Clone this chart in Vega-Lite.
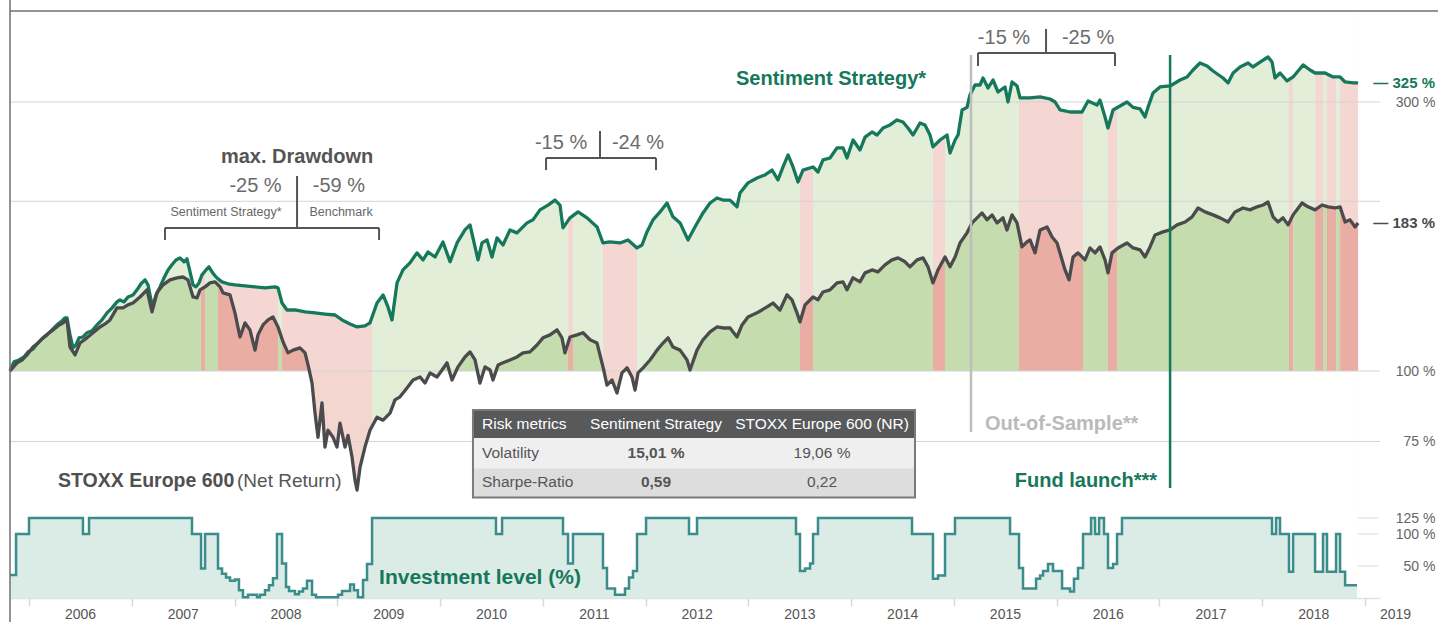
{
"$schema":"https://vega.github.io/schema/vega-lite/v6.json",
"width":1370,"height":587,
"autosize":{"type":"none"},
"padding":{"left":10,"top":11,"right":58,"bottom":24},
"background":"white",
"config":{"view":{"stroke":null},"font":"Liberation Sans, Arial, sans-serif"},
"datasets":{
"bands":[{"t":2005.815,"t2":2007.674,"r":"G"},{"t":2007.674,"t2":2007.713,"r":"R"},{"t":2007.713,"t2":2007.839,"r":"G"},{"t":2007.839,"t2":2008.423,"r":"R"},{"t":2008.423,"t2":2008.462,"r":"G"},{"t":2008.462,"t2":2009.338,"r":"R"},{"t":2009.338,"t2":2011.245,"r":"G"},{"t":2011.245,"t2":2011.293,"r":"R"},{"t":2011.293,"t2":2011.585,"r":"G"},{"t":2011.585,"t2":2011.916,"r":"R"},{"t":2011.916,"t2":2013.502,"r":"G"},{"t":2013.502,"t2":2013.629,"r":"R"},{"t":2013.629,"t2":2014.796,"r":"G"},{"t":2014.796,"t2":2014.913,"r":"R"},{"t":2014.913,"t2":2015.633,"r":"G"},{"t":2015.633,"t2":2016.256,"r":"R"},{"t":2016.256,"t2":2016.499,"r":"G"},{"t":2016.499,"t2":2016.587,"r":"R"},{"t":2016.587,"t2":2018.26,"r":"G"},{"t":2018.26,"t2":2018.3,"r":"R"},{"t":2018.3,"t2":2018.514,"r":"G"},{"t":2018.514,"t2":2018.591,"r":"R"},{"t":2018.591,"t2":2018.63,"r":"G"},{"t":2018.63,"t2":2018.718,"r":"R"},{"t":2018.718,"t2":2018.757,"r":"G"},{"t":2018.757,"t2":2018.932,"r":"R"}],
"S":[{"t":2005.815,"v":100},{"t":2005.854,"v":103.8},{"t":2005.903,"v":104.6},{"t":2005.951,"v":105.9},{"t":2005.99,"v":108.1},{"t":2006.039,"v":109.4},{"t":2006.078,"v":111.7},{"t":2006.126,"v":114},{"t":2006.175,"v":115.9},{"t":2006.224,"v":118.3},{"t":2006.272,"v":120.7},{"t":2006.311,"v":122.2},{"t":2006.35,"v":124.2},{"t":2006.37,"v":124.2},{"t":2006.399,"v":115.9},{"t":2006.428,"v":109.9},{"t":2006.457,"v":111.2},{"t":2006.487,"v":114.5},{"t":2006.525,"v":114.9},{"t":2006.564,"v":116.9},{"t":2006.613,"v":117.8},{"t":2006.662,"v":120.7},{"t":2006.71,"v":123.2},{"t":2006.759,"v":126.8},{"t":2006.808,"v":129.4},{"t":2006.856,"v":132.6},{"t":2006.885,"v":133.7},{"t":2006.924,"v":132.6},{"t":2006.963,"v":135.3},{"t":2007.012,"v":136.4},{"t":2007.051,"v":139.3},{"t":2007.09,"v":142.8},{"t":2007.129,"v":145.1},{"t":2007.158,"v":142.2},{"t":2007.187,"v":133.7},{"t":2007.207,"v":131},{"t":2007.236,"v":136.4},{"t":2007.275,"v":141},{"t":2007.314,"v":146.3},{"t":2007.353,"v":151.1},{"t":2007.391,"v":154.3},{"t":2007.43,"v":157.4},{"t":2007.469,"v":158.7},{"t":2007.508,"v":156.2},{"t":2007.537,"v":158.1},{"t":2007.567,"v":149.9},{"t":2007.596,"v":142.2},{"t":2007.625,"v":141},{"t":2007.654,"v":143.3},{"t":2007.683,"v":148.1},{"t":2007.722,"v":151.1},{"t":2007.751,"v":153},{"t":2007.781,"v":149.9},{"t":2007.81,"v":147.5},{"t":2007.839,"v":145.7},{"t":2007.878,"v":143.9},{"t":2007.936,"v":142.8},{"t":2008.004,"v":142.2},{"t":2008.102,"v":141.6},{"t":2008.199,"v":141},{"t":2008.296,"v":140.4},{"t":2008.394,"v":141},{"t":2008.423,"v":140.4},{"t":2008.462,"v":132},{"t":2008.51,"v":128.3},{"t":2008.588,"v":128.3},{"t":2008.686,"v":127.3},{"t":2008.783,"v":126.8},{"t":2008.88,"v":126.2},{"t":2008.978,"v":125.7},{"t":2009.046,"v":123.2},{"t":2009.124,"v":121.2},{"t":2009.192,"v":119.7},{"t":2009.269,"v":120.2},{"t":2009.318,"v":121.7},{"t":2009.386,"v":132},{"t":2009.445,"v":136.4},{"t":2009.493,"v":129.9},{"t":2009.532,"v":123.2},{"t":2009.581,"v":143.3},{"t":2009.639,"v":151.1},{"t":2009.707,"v":155.5},{"t":2009.775,"v":162},{"t":2009.834,"v":157.4},{"t":2009.883,"v":162.6},{"t":2009.951,"v":159.3},{"t":2010.028,"v":169.4},{"t":2010.097,"v":156.2},{"t":2010.165,"v":168.7},{"t":2010.242,"v":177.9},{"t":2010.291,"v":181.6},{"t":2010.34,"v":166},{"t":2010.369,"v":157.4},{"t":2010.408,"v":168.7},{"t":2010.457,"v":170.8},{"t":2010.505,"v":159.3},{"t":2010.554,"v":172.2},{"t":2010.612,"v":167.3},{"t":2010.68,"v":177.9},{"t":2010.748,"v":175.8},{"t":2010.846,"v":183.1},{"t":2010.904,"v":185.4},{"t":2010.972,"v":193.1},{"t":2011.05,"v":196.9},{"t":2011.118,"v":201},{"t":2011.167,"v":196.9},{"t":2011.196,"v":179.4},{"t":2011.264,"v":186.9},{"t":2011.342,"v":191.5},{"t":2011.43,"v":186.9},{"t":2011.527,"v":180.1},{"t":2011.585,"v":168.7},{"t":2011.653,"v":169.4},{"t":2011.751,"v":168.7},{"t":2011.829,"v":170.8},{"t":2011.916,"v":165.3},{"t":2011.965,"v":167.3},{"t":2012.013,"v":176.5},{"t":2012.072,"v":185.4},{"t":2012.14,"v":191.5},{"t":2012.208,"v":198.6},{"t":2012.266,"v":187.7},{"t":2012.335,"v":183.1},{"t":2012.412,"v":170.8},{"t":2012.48,"v":180.1},{"t":2012.558,"v":190.7},{"t":2012.627,"v":198.6},{"t":2012.694,"v":202.7},{"t":2012.753,"v":201},{"t":2012.821,"v":201},{"t":2012.889,"v":195.5},{"t":2012.918,"v":206.9},{"t":2012.996,"v":215.6},{"t":2013.084,"v":220},{"t":2013.162,"v":222.7},{"t":2013.23,"v":227.2},{"t":2013.288,"v":218.2},{"t":2013.337,"v":230.1},{"t":2013.386,"v":241.7},{"t":2013.434,"v":230.1},{"t":2013.483,"v":216.4},{"t":2013.531,"v":227.2},{"t":2013.629,"v":230.1},{"t":2013.677,"v":225.4},{"t":2013.726,"v":236.8},{"t":2013.794,"v":238.7},{"t":2013.862,"v":248.7},{"t":2013.921,"v":248.7},{"t":2013.959,"v":238.7},{"t":2014.018,"v":256.9},{"t":2014.086,"v":246.6},{"t":2014.135,"v":260},{"t":2014.203,"v":265.4},{"t":2014.252,"v":262.2},{"t":2014.31,"v":269.8},{"t":2014.378,"v":273.2},{"t":2014.446,"v":278.8},{"t":2014.504,"v":276.5},{"t":2014.553,"v":269.8},{"t":2014.602,"v":262.2},{"t":2014.67,"v":275.4},{"t":2014.718,"v":273.2},{"t":2014.767,"v":262.2},{"t":2014.796,"v":249.7},{"t":2014.865,"v":256.9},{"t":2014.933,"v":262.2},{"t":2014.962,"v":243.6},{"t":2015.011,"v":256.9},{"t":2015.04,"v":262.2},{"t":2015.079,"v":290.4},{"t":2015.127,"v":293.5},{"t":2015.156,"v":308.7},{"t":2015.205,"v":321.6},{"t":2015.254,"v":321.6},{"t":2015.283,"v":330.9},{"t":2015.332,"v":317.7},{"t":2015.38,"v":328.2},{"t":2015.429,"v":312.5},{"t":2015.497,"v":319},{"t":2015.526,"v":300},{"t":2015.565,"v":325.6},{"t":2015.614,"v":320.3},{"t":2015.643,"v":305},{"t":2015.74,"v":305},{"t":2015.838,"v":306.3},{"t":2015.935,"v":303.7},{"t":2015.984,"v":300},{"t":2016.032,"v":290.4},{"t":2016.13,"v":288},{"t":2016.246,"v":288},{"t":2016.305,"v":301.2},{"t":2016.392,"v":296.3},{"t":2016.421,"v":302.4},{"t":2016.47,"v":282.2},{"t":2016.499,"v":269.8},{"t":2016.548,"v":290.4},{"t":2016.616,"v":295.1},{"t":2016.684,"v":300},{"t":2016.743,"v":293.5},{"t":2016.811,"v":291.6},{"t":2016.859,"v":282.2},{"t":2016.888,"v":293.5},{"t":2016.937,"v":311.2},{"t":2017.005,"v":319},{"t":2017.103,"v":320.3},{"t":2017.2,"v":328.2},{"t":2017.268,"v":332.3},{"t":2017.326,"v":341.9},{"t":2017.394,"v":351.8},{"t":2017.463,"v":347.6},{"t":2017.521,"v":340.5},{"t":2017.618,"v":330.9},{"t":2017.667,"v":324.3},{"t":2017.716,"v":337.7},{"t":2017.784,"v":346.2},{"t":2017.862,"v":351.8},{"t":2017.91,"v":346.2},{"t":2017.978,"v":353.2},{"t":2018.056,"v":360.5},{"t":2018.095,"v":353.2},{"t":2018.124,"v":330.9},{"t":2018.173,"v":337.7},{"t":2018.241,"v":326.9},{"t":2018.3,"v":332.3},{"t":2018.397,"v":349},{"t":2018.465,"v":341.9},{"t":2018.514,"v":337.7},{"t":2018.611,"v":337.7},{"t":2018.689,"v":332.3},{"t":2018.757,"v":332.3},{"t":2018.806,"v":325.6},{"t":2018.884,"v":324.3},{"t":2018.932,"v":324.3}],
"B":[{"t":2005.815,"v":100},{"t":2005.883,"v":103.4},{"t":2005.932,"v":104.6},{"t":2005.981,"v":106.8},{"t":2006.039,"v":110.3},{"t":2006.088,"v":112.1},{"t":2006.136,"v":114.5},{"t":2006.185,"v":116.4},{"t":2006.234,"v":118.3},{"t":2006.282,"v":120.2},{"t":2006.331,"v":121.7},{"t":2006.37,"v":123.2},{"t":2006.399,"v":110.3},{"t":2006.448,"v":106.8},{"t":2006.496,"v":112.1},{"t":2006.564,"v":114.5},{"t":2006.623,"v":116.9},{"t":2006.691,"v":119.7},{"t":2006.74,"v":121.2},{"t":2006.788,"v":123.2},{"t":2006.856,"v":129.4},{"t":2006.915,"v":129.4},{"t":2006.963,"v":131},{"t":2007.012,"v":132},{"t":2007.08,"v":135.3},{"t":2007.148,"v":139.3},{"t":2007.197,"v":127.3},{"t":2007.245,"v":137.6},{"t":2007.304,"v":142.2},{"t":2007.372,"v":145.1},{"t":2007.44,"v":146.3},{"t":2007.498,"v":146.8},{"t":2007.547,"v":145.1},{"t":2007.596,"v":135.3},{"t":2007.635,"v":134.8},{"t":2007.664,"v":139.3},{"t":2007.713,"v":141},{"t":2007.761,"v":143.3},{"t":2007.81,"v":143.9},{"t":2007.859,"v":141},{"t":2007.888,"v":137.6},{"t":2007.956,"v":136.5},{"t":2008.004,"v":126.8},{"t":2008.053,"v":114.9},{"t":2008.102,"v":121.7},{"t":2008.15,"v":118.3},{"t":2008.199,"v":108.9},{"t":2008.228,"v":115.9},{"t":2008.277,"v":120.7},{"t":2008.326,"v":123.2},{"t":2008.374,"v":124.7},{"t":2008.423,"v":119.7},{"t":2008.472,"v":112.6},{"t":2008.52,"v":107.7},{"t":2008.569,"v":108.9},{"t":2008.637,"v":109.9},{"t":2008.686,"v":107.7},{"t":2008.715,"v":102.5},{"t":2008.754,"v":95.2},{"t":2008.783,"v":84.2},{"t":2008.812,"v":76.3},{"t":2008.851,"v":87.8},{"t":2008.88,"v":73.3},{"t":2008.909,"v":78.5},{"t":2008.958,"v":76.3},{"t":2008.997,"v":73.3},{"t":2009.026,"v":80.8},{"t":2009.075,"v":73.3},{"t":2009.104,"v":76.9},{"t":2009.143,"v":70.4},{"t":2009.172,"v":64.1},{"t":2009.192,"v":61.5},{"t":2009.221,"v":67.5},{"t":2009.269,"v":73.3},{"t":2009.318,"v":78.5},{"t":2009.386,"v":82.8},{"t":2009.445,"v":81.8},{"t":2009.513,"v":84.2},{"t":2009.561,"v":88.9},{"t":2009.61,"v":90},{"t":2009.678,"v":93.3},{"t":2009.737,"v":96.4},{"t":2009.805,"v":97.6},{"t":2009.853,"v":95.2},{"t":2009.902,"v":99.2},{"t":2009.97,"v":97.6},{"t":2010.019,"v":100.4},{"t":2010.067,"v":103.4},{"t":2010.116,"v":96.4},{"t":2010.174,"v":101.7},{"t":2010.242,"v":105.9},{"t":2010.291,"v":108.1},{"t":2010.34,"v":104.6},{"t":2010.388,"v":95.2},{"t":2010.437,"v":101.7},{"t":2010.486,"v":100.4},{"t":2010.515,"v":96.4},{"t":2010.564,"v":102.5},{"t":2010.612,"v":103.4},{"t":2010.68,"v":104.6},{"t":2010.748,"v":105.9},{"t":2010.807,"v":107.7},{"t":2010.875,"v":108.1},{"t":2010.943,"v":111.2},{"t":2011.001,"v":114.5},{"t":2011.07,"v":115.9},{"t":2011.138,"v":118.3},{"t":2011.186,"v":114.5},{"t":2011.215,"v":107.7},{"t":2011.264,"v":114.9},{"t":2011.332,"v":115.9},{"t":2011.391,"v":116.9},{"t":2011.459,"v":113.6},{"t":2011.527,"v":112.1},{"t":2011.585,"v":101.7},{"t":2011.624,"v":94.4},{"t":2011.673,"v":96.4},{"t":2011.721,"v":91.4},{"t":2011.77,"v":99.2},{"t":2011.819,"v":101.3},{"t":2011.867,"v":97.6},{"t":2011.897,"v":92.5},{"t":2011.926,"v":99.2},{"t":2011.975,"v":101.3},{"t":2012.043,"v":104.6},{"t":2012.111,"v":108.9},{"t":2012.169,"v":112.1},{"t":2012.218,"v":114.5},{"t":2012.266,"v":110.3},{"t":2012.335,"v":108.9},{"t":2012.403,"v":104.6},{"t":2012.432,"v":100.4},{"t":2012.5,"v":108.9},{"t":2012.558,"v":113.6},{"t":2012.627,"v":117.3},{"t":2012.694,"v":119.7},{"t":2012.753,"v":119.2},{"t":2012.821,"v":119.2},{"t":2012.889,"v":114.9},{"t":2012.938,"v":120.7},{"t":2012.996,"v":124.7},{"t":2013.084,"v":126.8},{"t":2013.181,"v":129.9},{"t":2013.239,"v":132},{"t":2013.307,"v":128.3},{"t":2013.376,"v":136.5},{"t":2013.424,"v":133.7},{"t":2013.473,"v":126.8},{"t":2013.502,"v":122.2},{"t":2013.551,"v":131},{"t":2013.629,"v":135.3},{"t":2013.677,"v":133.7},{"t":2013.726,"v":138.1},{"t":2013.794,"v":139.3},{"t":2013.862,"v":143.3},{"t":2013.921,"v":143.9},{"t":2013.959,"v":139.3},{"t":2014.018,"v":146.3},{"t":2014.086,"v":143.9},{"t":2014.135,"v":149.3},{"t":2014.203,"v":151.1},{"t":2014.261,"v":149.9},{"t":2014.329,"v":154.3},{"t":2014.397,"v":157.4},{"t":2014.456,"v":158.7},{"t":2014.524,"v":156.2},{"t":2014.572,"v":153},{"t":2014.641,"v":157.4},{"t":2014.699,"v":158.7},{"t":2014.748,"v":153},{"t":2014.796,"v":143.3},{"t":2014.845,"v":151.1},{"t":2014.913,"v":159.3},{"t":2014.962,"v":153},{"t":2015.011,"v":159.3},{"t":2015.059,"v":168.7},{"t":2015.127,"v":175.8},{"t":2015.176,"v":183.1},{"t":2015.225,"v":186.9},{"t":2015.273,"v":190.7},{"t":2015.322,"v":185.4},{"t":2015.371,"v":189.2},{"t":2015.419,"v":183.1},{"t":2015.477,"v":186.9},{"t":2015.516,"v":177.9},{"t":2015.565,"v":189.2},{"t":2015.614,"v":183.1},{"t":2015.662,"v":166},{"t":2015.711,"v":169.4},{"t":2015.74,"v":170.8},{"t":2015.789,"v":162},{"t":2015.838,"v":177.9},{"t":2015.906,"v":180.1},{"t":2015.955,"v":172.9},{"t":2016.003,"v":168.7},{"t":2016.052,"v":157.4},{"t":2016.081,"v":151.1},{"t":2016.12,"v":145.1},{"t":2016.159,"v":159.3},{"t":2016.207,"v":162},{"t":2016.275,"v":157.4},{"t":2016.324,"v":165.3},{"t":2016.373,"v":162},{"t":2016.421,"v":166},{"t":2016.47,"v":157.4},{"t":2016.499,"v":149.3},{"t":2016.538,"v":162},{"t":2016.596,"v":165.3},{"t":2016.684,"v":168.7},{"t":2016.743,"v":165.3},{"t":2016.811,"v":164},{"t":2016.859,"v":159.3},{"t":2016.908,"v":166},{"t":2016.957,"v":174.3},{"t":2017.034,"v":176.5},{"t":2017.103,"v":177.9},{"t":2017.171,"v":181.6},{"t":2017.249,"v":183.8},{"t":2017.317,"v":187.7},{"t":2017.375,"v":194.6},{"t":2017.443,"v":191.5},{"t":2017.521,"v":189.2},{"t":2017.589,"v":186.9},{"t":2017.667,"v":183.8},{"t":2017.735,"v":191.5},{"t":2017.813,"v":194.6},{"t":2017.881,"v":193.1},{"t":2017.949,"v":195.5},{"t":2018.008,"v":197},{"t":2018.056,"v":199.4},{"t":2018.105,"v":187.7},{"t":2018.153,"v":183.8},{"t":2018.202,"v":186.9},{"t":2018.251,"v":181.6},{"t":2018.3,"v":189.2},{"t":2018.387,"v":198.6},{"t":2018.445,"v":195.5},{"t":2018.514,"v":193.1},{"t":2018.582,"v":197},{"t":2018.64,"v":195.5},{"t":2018.708,"v":194.6},{"t":2018.757,"v":195.5},{"t":2018.806,"v":183.8},{"t":2018.854,"v":185.4},{"t":2018.903,"v":180.1},{"t":2018.932,"v":183.1}],
"inv":[{"t":2005.815,"l":36},{"t":2005.874,"l":100},{"t":2006.0,"l":125},{"t":2006.525,"l":100},{"t":2006.584,"l":125},{"t":2007.586,"l":100},{"t":2007.674,"l":46},{"t":2007.713,"l":100},{"t":2007.839,"l":46},{"t":2007.878,"l":38},{"t":2007.917,"l":32},{"t":2007.956,"l":27},{"t":2008.004,"l":29},{"t":2008.043,"l":12},{"t":2008.082,"l":1},{"t":2008.131,"l":5},{"t":2008.219,"l":1},{"t":2008.248,"l":5},{"t":2008.296,"l":12},{"t":2008.335,"l":20},{"t":2008.374,"l":31},{"t":2008.413,"l":100},{"t":2008.462,"l":54},{"t":2008.501,"l":17},{"t":2008.53,"l":11},{"t":2008.588,"l":6},{"t":2008.627,"l":10},{"t":2008.666,"l":15},{"t":2008.705,"l":27},{"t":2008.754,"l":5},{"t":2008.793,"l":1},{"t":2009.007,"l":5},{"t":2009.046,"l":11},{"t":2009.124,"l":21},{"t":2009.162,"l":12},{"t":2009.201,"l":1},{"t":2009.25,"l":28},{"t":2009.289,"l":53},{"t":2009.338,"l":125},{"t":2010.544,"l":100},{"t":2010.603,"l":125},{"t":2011.196,"l":100},{"t":2011.245,"l":54},{"t":2011.293,"l":100},{"t":2011.585,"l":47},{"t":2011.624,"l":15},{"t":2011.702,"l":5},{"t":2011.799,"l":15},{"t":2011.838,"l":32},{"t":2011.877,"l":42},{"t":2011.916,"l":100},{"t":2012.004,"l":125},{"t":2012.422,"l":100},{"t":2012.5,"l":125},{"t":2013.463,"l":100},{"t":2013.502,"l":42},{"t":2013.551,"l":46},{"t":2013.6,"l":54},{"t":2013.629,"l":100},{"t":2013.677,"l":125},{"t":2014.592,"l":100},{"t":2014.796,"l":30},{"t":2014.845,"l":35},{"t":2014.913,"l":100},{"t":2015.01,"l":125},{"t":2015.546,"l":100},{"t":2015.633,"l":47},{"t":2015.672,"l":15},{"t":2015.799,"l":30},{"t":2015.838,"l":35},{"t":2015.867,"l":42},{"t":2015.915,"l":53},{"t":2015.964,"l":42},{"t":2016.052,"l":15},{"t":2016.13,"l":10},{"t":2016.168,"l":30},{"t":2016.207,"l":47},{"t":2016.256,"l":100},{"t":2016.334,"l":125},{"t":2016.373,"l":100},{"t":2016.412,"l":125},{"t":2016.46,"l":100},{"t":2016.499,"l":47},{"t":2016.548,"l":53},{"t":2016.587,"l":100},{"t":2016.635,"l":125},{"t":2018.095,"l":100},{"t":2018.134,"l":125},{"t":2018.173,"l":100},{"t":2018.26,"l":41},{"t":2018.3,"l":100},{"t":2018.514,"l":41},{"t":2018.591,"l":100},{"t":2018.63,"l":41},{"t":2018.718,"l":100},{"t":2018.757,"l":41},{"t":2018.806,"l":20},{"t":2018.922,"l":20}]
},
"layer":[
{"data":{"name":"bands"},"mark":{"type":"rect"},"encoding":{"x":{"field":"t","type":"quantitative","scale":{"domain":[2005.8151,2019.1456],"nice":false,"zero":false},"axis":{"title":null,"values":[2006,2007,2008,2009,2010,2011,2012,2013,2014,2015,2016,2017,2018,2019],"format":"d","labelOffset":{"condition":{"test":"datum.value == 2019","value":30},"value":51},"tickSize":8,"tickColor":"#d3d9e0","tickWidth":1.5,"domainColor":"#dde2e8","domainWidth":1.5,"labelColor":"#555555","labelFontSize":14,"labelPadding":1,"grid":false,"labelFlush":false,"labelOverlap":false,"labelBound":false}},"x2":{"field":"t2"},"y":{"datum":100,"type":"quantitative","scale":{"type":"log","domain":[39.57,435.05],"nice":false},"axis":null},"y2":{"datum":435.05},"color":{"field":"r","type":"nominal","scale":{"domain":["G","R"],"range":["#c5dcae","#e9ada4"]},"legend":null}}},
{"data":{"name":"bands"},"mark":{"type":"rect","opacity":0.5},"encoding":{"x":{"field":"t","type":"quantitative","title":null},"x2":{"field":"t2"},"y":{"datum":39.57,"type":"quantitative","scale":{"type":"log","domain":[39.57,435.05],"nice":false},"axis":null},"y2":{"datum":100},"color":{"field":"r","type":"nominal","legend":null}}},
{"data":{"name":"B"},"mark":{"type":"area","color":"white","opacity":0.5},"encoding":{"x":{"field":"t","type":"quantitative","title":null},"y":{"field":"v","type":"quantitative","scale":{"type":"log","domain":[100,435.05],"range":[360,0],"clamp":true,"nice":false},"axis":null},"y2":{"datum":435.05}}},
{"data":{"name":"S"},"mark":{"type":"area","color":"white","opacity":1},"encoding":{"x":{"field":"t","type":"quantitative","title":null},"y":{"field":"v","type":"quantitative","scale":{"type":"log","domain":[39.57,435.05],"nice":false},"axis":null},"y2":{"datum":435.05}}},
{"data":{"name":"B"},"mark":{"type":"area","color":"white","opacity":1},"encoding":{"x":{"field":"t","type":"quantitative","title":null},"y":{"field":"v","type":"quantitative","scale":{"type":"log","domain":[39.57,100],"range":[587,360],"clamp":true,"nice":false},"axis":null},"y2":{"datum":39.57}}},
{"data":{"values":[{"g":75},{"g":100},{"g":200},{"g":300}]},"mark":{"type":"rule","color":"#d4d4d4","strokeWidth":1},"encoding":{"x":{"datum":2005.8151,"type":"quantitative","title":null},"x2":{"datum":2019.1456},"y":{"field":"g","type":"quantitative","scale":{"type":"log","domain":[39.57,435.05],"nice":false},"axis":null}}},
{"data":{"name":"inv"},"mark":{"type":"area","interpolate":"step-after","color":"#dbebe6","opacity":1},"encoding":{"x":{"field":"t","type":"quantitative","title":null},"y":{"field":"l","type":"quantitative","scale":{"type":"linear","domain":[0,917.2],"nice":false,"zero":false},"axis":null},"y2":{"datum":0}}},
{"data":{"name":"inv"},"mark":{"type":"line","interpolate":"step-after","color":"#3a8d8b","strokeWidth":2.5},"encoding":{"x":{"field":"t","type":"quantitative","title":null},"y":{"field":"l","type":"quantitative","scale":{"type":"linear","domain":[0,917.2],"nice":false,"zero":false},"axis":{"orient":"right","values":[50,100,125],"labelExpr":"datum.value + ' %'","grid":false,"domain":false,"ticks":false,"tickSize":0,"labelAlign":"right","labelBaseline":"middle","labelPadding":55,"labelFontSize":14,"labelColor":"#666666","title":null,"labelOverlap":false}}}},
{"data":{"values":[{"g":50},{"g":100},{"g":125}]},"mark":{"type":"rule","color":"#d9d9d9","strokeWidth":1},"encoding":{"x":{"datum":2018.932,"type":"quantitative","title":null},"x2":{"datum":2019.126},"y":{"field":"g","type":"quantitative","scale":{"type":"linear","domain":[0,917.2],"nice":false,"zero":false},"axis":null}}},
{"data":{"name":"S"},"mark":{"type":"line","color":"#16785a","strokeWidth":3.3,"strokeJoin":"round"},"encoding":{"x":{"field":"t","type":"quantitative","title":null},"y":{"field":"v","type":"quantitative","scale":{"type":"log","domain":[39.57,435.05],"nice":false},"axis":{"orient":"right","values":[75,100,300],"labelExpr":"datum.value + ' %'","grid":false,"domain":false,"ticks":false,"tickSize":0,"labelAlign":"right","labelBaseline":"middle","labelPadding":55,"labelFontSize":14,"labelColor":"#666666","title":null,"labelOverlap":false}}}},
{"data":{"name":"B"},"mark":{"type":"line","color":"#4b4b4d","strokeWidth":3.3,"strokeJoin":"round"},"encoding":{"x":{"field":"t","type":"quantitative","title":null},"y":{"field":"v","type":"quantitative","scale":{"type":"log","domain":[39.57,435.05],"nice":false},"axis":null}}},
{"data":{"values":[{}]},"mark":{"type":"rule","color":"#bdbdbd","strokeWidth":2.5},"encoding":{"x":{"datum":2015.166,"type":"quantitative","title":null},"y":{"datum":363.5,"type":"quantitative","scale":{"type":"log","domain":[39.57,435.05],"nice":false},"axis":null},"y2":{"datum":77.95}}},
{"data":{"values":[{}]},"mark":{"type":"rule","color":"#16785a","strokeWidth":2.5},"encoding":{"x":{"datum":2017.103,"type":"quantitative","title":null},"y":{"datum":363.5,"type":"quantitative","scale":{"type":"log","domain":[39.57,435.05],"nice":false},"axis":null},"y2":{"datum":62.0}}},
{"data":{"values":[{}]},"mark":{"type":"rule","color":"#555555","strokeWidth":2},"encoding":{"x":{"datum":2007.323,"type":"quantitative","title":null},"x2":{"datum":2009.406},"y":{"datum":179.4,"type":"quantitative","scale":{"type":"log","domain":[39.57,435.05],"nice":false},"axis":null}}},
{"data":{"values":[{}]},"mark":{"type":"rule","color":"#555555","strokeWidth":2},"encoding":{"x":{"datum":2007.323,"type":"quantitative","title":null},"y":{"datum":179.4,"type":"quantitative","scale":{"type":"log","domain":[39.57,435.05],"nice":false},"axis":null},"y2":{"datum":170.8}}},
{"data":{"values":[{}]},"mark":{"type":"rule","color":"#555555","strokeWidth":2},"encoding":{"x":{"datum":2009.406,"type":"quantitative","title":null},"y":{"datum":179.4,"type":"quantitative","scale":{"type":"log","domain":[39.57,435.05],"nice":false},"axis":null},"y2":{"datum":170.8}}},
{"data":{"values":[{}]},"mark":{"type":"rule","color":"#555555","strokeWidth":2},"encoding":{"x":{"datum":2008.608,"type":"quantitative","title":null},"y":{"datum":221.8,"type":"quantitative","scale":{"type":"log","domain":[39.57,435.05],"nice":false},"axis":null},"y2":{"datum":179.4}}},
{"data":{"values":[{}]},"mark":{"type":"rule","color":"#555555","strokeWidth":2},"encoding":{"x":{"datum":2011.031,"type":"quantitative","title":null},"x2":{"datum":2012.101},"y":{"datum":238.7,"type":"quantitative","scale":{"type":"log","domain":[39.57,435.05],"nice":false},"axis":null}}},
{"data":{"values":[{}]},"mark":{"type":"rule","color":"#555555","strokeWidth":2},"encoding":{"x":{"datum":2011.031,"type":"quantitative","title":null},"y":{"datum":238.7,"type":"quantitative","scale":{"type":"log","domain":[39.57,435.05],"nice":false},"axis":null},"y2":{"datum":227.2}}},
{"data":{"values":[{}]},"mark":{"type":"rule","color":"#555555","strokeWidth":2},"encoding":{"x":{"datum":2012.101,"type":"quantitative","title":null},"y":{"datum":238.7,"type":"quantitative","scale":{"type":"log","domain":[39.57,435.05],"nice":false},"axis":null},"y2":{"datum":227.2}}},
{"data":{"values":[{}]},"mark":{"type":"rule","color":"#555555","strokeWidth":2},"encoding":{"x":{"datum":2011.556,"type":"quantitative","title":null},"y":{"datum":266.5,"type":"quantitative","scale":{"type":"log","domain":[39.57,435.05],"nice":false},"axis":null},"y2":{"datum":238.7}}},
{"data":{"values":[{}]},"mark":{"type":"rule","color":"#555555","strokeWidth":2},"encoding":{"x":{"datum":2015.234,"type":"quantitative","title":null},"x2":{"datum":2016.567},"y":{"datum":366.5,"type":"quantitative","scale":{"type":"log","domain":[39.57,435.05],"nice":false},"axis":null}}},
{"data":{"values":[{}]},"mark":{"type":"rule","color":"#555555","strokeWidth":2},"encoding":{"x":{"datum":2015.234,"type":"quantitative","title":null},"y":{"datum":366.5,"type":"quantitative","scale":{"type":"log","domain":[39.57,435.05],"nice":false},"axis":null},"y2":{"datum":347.5}}},
{"data":{"values":[{}]},"mark":{"type":"rule","color":"#555555","strokeWidth":2},"encoding":{"x":{"datum":2016.567,"type":"quantitative","title":null},"y":{"datum":366.5,"type":"quantitative","scale":{"type":"log","domain":[39.57,435.05],"nice":false},"axis":null},"y2":{"datum":347.5}}},
{"data":{"values":[{}]},"mark":{"type":"rule","color":"#555555","strokeWidth":2},"encoding":{"x":{"datum":2015.896,"type":"quantitative","title":null},"y":{"datum":404.3,"type":"quantitative","scale":{"type":"log","domain":[39.57,435.05],"nice":false},"axis":null},"y2":{"datum":366.5}}},
{"data":{"values":[{}]},"mark":{"type":"text","text":"Sentiment Strategy*","fontSize":20,"fontWeight":"bold","color":"#16785a","align":"center","baseline":"middle"},"encoding":{"x":{"datum":2013.804,"type":"quantitative","title":null},"y":{"datum":329.6,"type":"quantitative","scale":{"type":"log","domain":[39.57,435.05],"nice":false},"axis":null}}},
{"data":{"values":[{}]},"mark":{"type":"text","text":"max. Drawdown","fontSize":20,"fontWeight":"bold","color":"#555555","align":"center","baseline":"middle"},"encoding":{"x":{"datum":2008.608,"type":"quantitative","title":null},"y":{"datum":239.7,"type":"quantitative","scale":{"type":"log","domain":[39.57,435.05],"nice":false},"axis":null}}},
{"data":{"values":[{}]},"mark":{"type":"text","text":"-25 %","fontSize":20,"color":"#6b6b6b","align":"center","baseline":"middle"},"encoding":{"x":{"datum":2008.204,"type":"quantitative","title":null},"y":{"datum":212.9,"type":"quantitative","scale":{"type":"log","domain":[39.57,435.05],"nice":false},"axis":null}}},
{"data":{"values":[{}]},"mark":{"type":"text","text":"-59 %","fontSize":20,"color":"#6b6b6b","align":"center","baseline":"middle"},"encoding":{"x":{"datum":2009.016,"type":"quantitative","title":null},"y":{"datum":212.9,"type":"quantitative","scale":{"type":"log","domain":[39.57,435.05],"nice":false},"axis":null}}},
{"data":{"values":[{}]},"mark":{"type":"text","text":"Sentiment Strategy*","fontSize":12.5,"color":"#666666","align":"center","baseline":"middle"},"encoding":{"x":{"datum":2007.917,"type":"quantitative","title":null},"y":{"datum":191.5,"type":"quantitative","scale":{"type":"log","domain":[39.57,435.05],"nice":false},"axis":null}}},
{"data":{"values":[{}]},"mark":{"type":"text","text":"Benchmark","fontSize":12.5,"color":"#666666","align":"center","baseline":"middle"},"encoding":{"x":{"datum":2009.036,"type":"quantitative","title":null},"y":{"datum":191.5,"type":"quantitative","scale":{"type":"log","domain":[39.57,435.05],"nice":false},"axis":null}}},
{"data":{"values":[{}]},"mark":{"type":"text","text":"-15 %","fontSize":20,"color":"#6b6b6b","align":"center","baseline":"middle"},"encoding":{"x":{"datum":2011.177,"type":"quantitative","title":null},"y":{"datum":253.8,"type":"quantitative","scale":{"type":"log","domain":[39.57,435.05],"nice":false},"axis":null}}},
{"data":{"values":[{}]},"mark":{"type":"text","text":"-24 %","fontSize":20,"color":"#6b6b6b","align":"center","baseline":"middle"},"encoding":{"x":{"datum":2011.926,"type":"quantitative","title":null},"y":{"datum":253.8,"type":"quantitative","scale":{"type":"log","domain":[39.57,435.05],"nice":false},"axis":null}}},
{"data":{"values":[{}]},"mark":{"type":"text","text":"-15 %","fontSize":20,"color":"#6b6b6b","align":"center","baseline":"middle"},"encoding":{"x":{"datum":2015.487,"type":"quantitative","title":null},"y":{"datum":389.6,"type":"quantitative","scale":{"type":"log","domain":[39.57,435.05],"nice":false},"axis":null}}},
{"data":{"values":[{}]},"mark":{"type":"text","text":"-25 %","fontSize":20,"color":"#6b6b6b","align":"center","baseline":"middle"},"encoding":{"x":{"datum":2016.305,"type":"quantitative","title":null},"y":{"datum":389.6,"type":"quantitative","scale":{"type":"log","domain":[39.57,435.05],"nice":false},"axis":null}}},
{"data":{"values":[{}]},"mark":{"type":"text","text":"Out-of-Sample**","fontSize":20,"fontWeight":"bold","color":"#bababa","align":"left","baseline":"middle"},"encoding":{"x":{"datum":2015.302,"type":"quantitative","title":null},"y":{"datum":80.5,"type":"quantitative","scale":{"type":"log","domain":[39.57,435.05],"nice":false},"axis":null}}},
{"data":{"values":[{}]},"mark":{"type":"text","text":"Fund launch***","fontSize":20,"fontWeight":"bold","color":"#16785a","align":"right","baseline":"middle"},"encoding":{"x":{"datum":2016.976,"type":"quantitative","title":null},"y":{"datum":63.8,"type":"quantitative","scale":{"type":"log","domain":[39.57,435.05],"nice":false},"axis":null}}},
{"data":{"values":[{}]},"mark":{"type":"text","text":"STOXX Europe 600","fontSize":19.5,"fontWeight":"bold","color":"#505050","align":"left","baseline":"middle"},"encoding":{"x":{"datum":2006.282,"type":"quantitative","title":null},"y":{"datum":63.8,"type":"quantitative","scale":{"type":"log","domain":[39.57,435.05],"nice":false},"axis":null}}},
{"data":{"values":[{}]},"mark":{"type":"text","text":"(Net Return)","fontSize":19,"color":"#555555","align":"left","baseline":"middle"},"encoding":{"x":{"datum":2008.024,"type":"quantitative","title":null},"y":{"datum":63.8,"type":"quantitative","scale":{"type":"log","domain":[39.57,435.05],"nice":false},"axis":null}}},
{"data":{"values":[{}]},"mark":{"type":"text","text":"Investment level (%)","fontSize":21,"fontWeight":"bold","color":"#16785a","align":"left","baseline":"middle"},"encoding":{"x":{"datum":2009.406,"type":"quantitative","title":null},"y":{"datum":31.25,"type":"quantitative","scale":{"type":"linear","domain":[0,917.2],"nice":false,"zero":false},"axis":null}}},
{"data":{"values":[{}]},"mark":{"type":"text","text":"— 325 %","fontSize":15,"fontWeight":"bold","color":"#16785a","align":"right","baseline":"middle"},"encoding":{"x":{"datum":2019.681,"type":"quantitative","title":null},"y":{"datum":324.3,"type":"quantitative","scale":{"type":"log","domain":[39.57,435.05],"nice":false},"axis":null}}},
{"data":{"values":[{}]},"mark":{"type":"text","text":"— 183 %","fontSize":15,"fontWeight":"bold","color":"#4b4b4d","align":"right","baseline":"middle"},"encoding":{"x":{"datum":2019.681,"type":"quantitative","title":null},"y":{"datum":183.1,"type":"quantitative","scale":{"type":"log","domain":[39.57,435.05],"nice":false},"axis":null}}},
{"data":{"values":[{}]},"mark":{"type":"rect","color":"#58595b"},"encoding":{"x":{"datum":2010.32,"type":"quantitative","title":null},"x2":{"datum":2014.621},"y":{"datum":85.26,"type":"quantitative","scale":{"type":"log","domain":[39.57,435.05],"nice":false},"axis":null},"y2":{"datum":76.03}}},
{"data":{"values":[{}]},"mark":{"type":"rect","color":"#efefef"},"encoding":{"x":{"datum":2010.32,"type":"quantitative","title":null},"x2":{"datum":2014.621},"y":{"datum":76.03,"type":"quantitative","scale":{"type":"log","domain":[39.57,435.05],"nice":false},"axis":null},"y2":{"datum":67.24}}},
{"data":{"values":[{}]},"mark":{"type":"rect","color":"#dddddd"},"encoding":{"x":{"datum":2010.32,"type":"quantitative","title":null},"x2":{"datum":2014.621},"y":{"datum":67.24,"type":"quantitative","scale":{"type":"log","domain":[39.57,435.05],"nice":false},"axis":null},"y2":{"datum":59.64}}},
{"data":{"values":[{}]},"mark":{"type":"rect","filled":false,"color":"#7a7a7a","strokeWidth":2},"encoding":{"x":{"datum":2010.32,"type":"quantitative","title":null},"x2":{"datum":2014.621},"y":{"datum":85.26,"type":"quantitative","scale":{"type":"log","domain":[39.57,435.05],"nice":false},"axis":null},"y2":{"datum":59.64}}},
{"data":{"values":[{}]},"mark":{"type":"text","text":"Risk metrics","fontSize":15.5,"color":"white","align":"left","baseline":"middle"},"encoding":{"x":{"datum":2010.408,"type":"quantitative","title":null},"y":{"datum":80.5,"type":"quantitative","scale":{"type":"log","domain":[39.57,435.05],"nice":false},"axis":null}}},
{"data":{"values":[{}]},"mark":{"type":"text","text":"Sentiment Strategy","fontSize":15.5,"color":"white","align":"center","baseline":"middle"},"encoding":{"x":{"datum":2012.101,"type":"quantitative","title":null},"y":{"datum":80.5,"type":"quantitative","scale":{"type":"log","domain":[39.57,435.05],"nice":false},"axis":null}}},
{"data":{"values":[{}]},"mark":{"type":"text","text":"STOXX Europe 600 (NR)","fontSize":15.5,"color":"white","align":"center","baseline":"middle"},"encoding":{"x":{"datum":2013.716,"type":"quantitative","title":null},"y":{"datum":80.5,"type":"quantitative","scale":{"type":"log","domain":[39.57,435.05],"nice":false},"axis":null}}},
{"data":{"values":[{}]},"mark":{"type":"text","text":"Volatility","fontSize":15.5,"color":"#555555","align":"left","baseline":"middle"},"encoding":{"x":{"datum":2010.408,"type":"quantitative","title":null},"y":{"datum":71.5,"type":"quantitative","scale":{"type":"log","domain":[39.57,435.05],"nice":false},"axis":null}}},
{"data":{"values":[{}]},"mark":{"type":"text","text":"15,01 %","fontSize":15.5,"fontWeight":"bold","color":"#555555","align":"center","baseline":"middle"},"encoding":{"x":{"datum":2012.101,"type":"quantitative","title":null},"y":{"datum":71.5,"type":"quantitative","scale":{"type":"log","domain":[39.57,435.05],"nice":false},"axis":null}}},
{"data":{"values":[{}]},"mark":{"type":"text","text":"19,06 %","fontSize":15.5,"color":"#555555","align":"center","baseline":"middle"},"encoding":{"x":{"datum":2013.716,"type":"quantitative","title":null},"y":{"datum":71.5,"type":"quantitative","scale":{"type":"log","domain":[39.57,435.05],"nice":false},"axis":null}}},
{"data":{"values":[{}]},"mark":{"type":"text","text":"Sharpe-Ratio","fontSize":15.5,"color":"#555555","align":"left","baseline":"middle"},"encoding":{"x":{"datum":2010.408,"type":"quantitative","title":null},"y":{"datum":63.5,"type":"quantitative","scale":{"type":"log","domain":[39.57,435.05],"nice":false},"axis":null}}},
{"data":{"values":[{}]},"mark":{"type":"text","text":"0,59","fontSize":15.5,"fontWeight":"bold","color":"#555555","align":"center","baseline":"middle"},"encoding":{"x":{"datum":2012.101,"type":"quantitative","title":null},"y":{"datum":63.5,"type":"quantitative","scale":{"type":"log","domain":[39.57,435.05],"nice":false},"axis":null}}},
{"data":{"values":[{}]},"mark":{"type":"text","text":"0,22","fontSize":15.5,"color":"#555555","align":"center","baseline":"middle"},"encoding":{"x":{"datum":2013.716,"type":"quantitative","title":null},"y":{"datum":63.5,"type":"quantitative","scale":{"type":"log","domain":[39.57,435.05],"nice":false},"axis":null}}},
{"data":{"values":[{}]},"mark":{"type":"rule","color":"#707070","strokeWidth":1.5},"encoding":{"x":{"datum":2005.8151,"type":"quantitative","title":null},"x2":{"datum":2019.71},"y":{"datum":435.05,"type":"quantitative","scale":{"type":"log","domain":[39.57,435.05],"nice":false},"axis":null}}},
{"data":{"values":[{}]},"mark":{"type":"rule","color":"#707070","strokeWidth":1.5},"encoding":{"x":{"datum":2005.8151,"type":"quantitative","title":null},"y":{"datum":455.0,"type":"quantitative","scale":{"type":"log","domain":[39.57,435.05],"nice":false},"axis":null},"y2":{"datum":35.88}}}
],
"resolve":{"scale":{"y":"independent"}}
}
